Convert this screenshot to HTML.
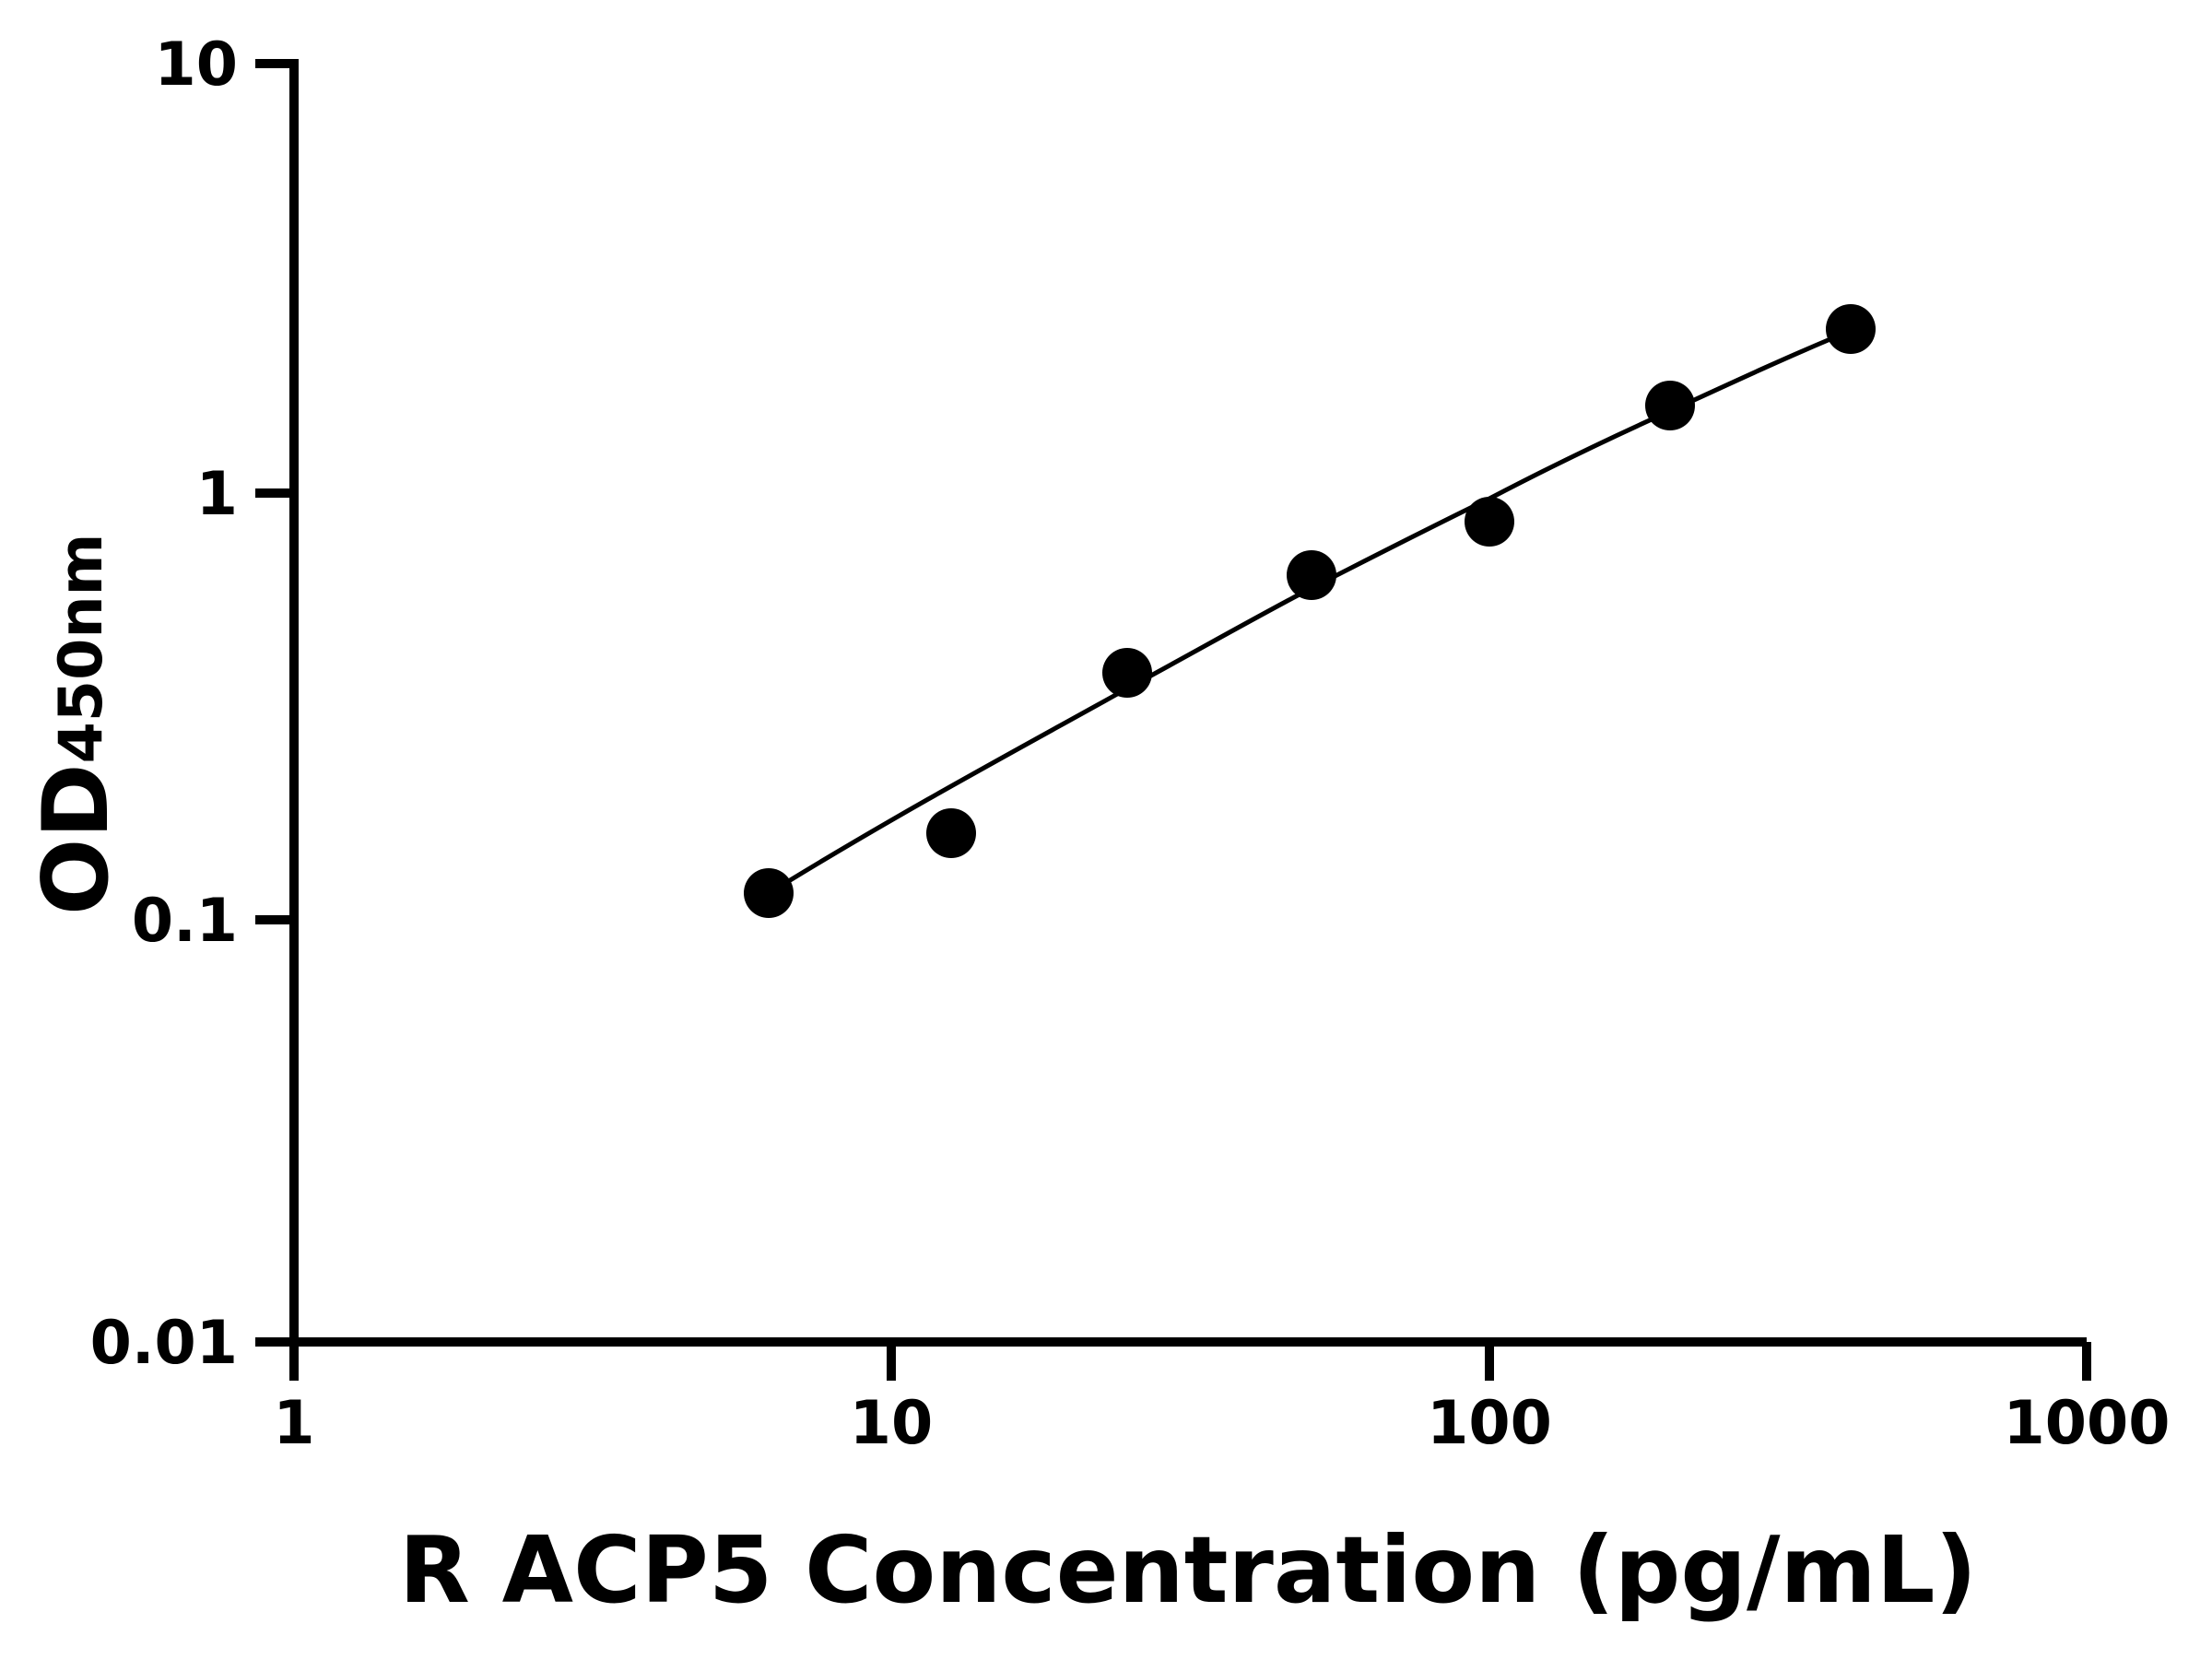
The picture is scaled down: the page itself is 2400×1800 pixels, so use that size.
<!DOCTYPE html>
<html><head><meta charset="utf-8"><style>
html,body{margin:0;padding:0;background:#fff}
svg{display:block}
text{font-family:"DejaVu Sans","Liberation Sans",sans-serif;font-weight:bold;fill:#000}
</style></head><body>
<svg width="2400" height="1800" viewBox="0 0 2400 1800" xmlns="http://www.w3.org/2000/svg">
<g stroke="#000" stroke-width="10" fill="none">
<line x1="319" y1="64" x2="319" y2="1498"/>
<line x1="314" y1="1456" x2="2264" y2="1456"/>
<line x1="277" y1="69" x2="319" y2="69"/>
<line x1="277" y1="535" x2="319" y2="535"/>
<line x1="277" y1="998" x2="319" y2="998"/>
<line x1="277" y1="1456" x2="319" y2="1456"/>
<line x1="967" y1="1456" x2="967" y2="1498"/>
<line x1="1616" y1="1456" x2="1616" y2="1498"/>
<line x1="2264" y1="1456" x2="2264" y2="1498"/>
</g>
<path d="M854,957 C990,874 1110,810 1223,747 C1290,711 1358,672 1423,638 C1488,605 1552,572 1616,541 C1683,506 1747,475 1812,446 C1873,418 1933,390 1993,365" stroke="#000" stroke-width="5" fill="none"/>
<g fill="#000">
<circle cx="834" cy="969" r="27"/>
<circle cx="1032" cy="904" r="27"/>
<circle cx="1223" cy="730" r="27"/>
<circle cx="1423" cy="624" r="27"/>
<circle cx="1616" cy="566" r="27"/>
<circle cx="1812" cy="440" r="27"/>
<circle cx="2008" cy="357" r="27"/>
</g>
<g font-size="65" text-anchor="end">
<text x="258" y="92">10</text>
<text x="258" y="558">1</text>
<text x="258" y="1021">0.1</text>
<text x="258" y="1479">0.01</text>
</g>
<g font-size="65" text-anchor="middle">
<text x="319" y="1566">1</text>
<text x="967" y="1566">10</text>
<text x="1616" y="1566">100</text>
<text x="2264" y="1566">1000</text>
</g>
<text x="1289" y="1738" font-size="100" text-anchor="middle">R ACP5 Concentration (pg/mL)</text>
<g transform="translate(116,993) rotate(-90)">
<text x="0" y="0" font-size="98">OD<tspan font-size="65" dy="-6">450nm</tspan></text>
</g>
</svg>
</body></html>
